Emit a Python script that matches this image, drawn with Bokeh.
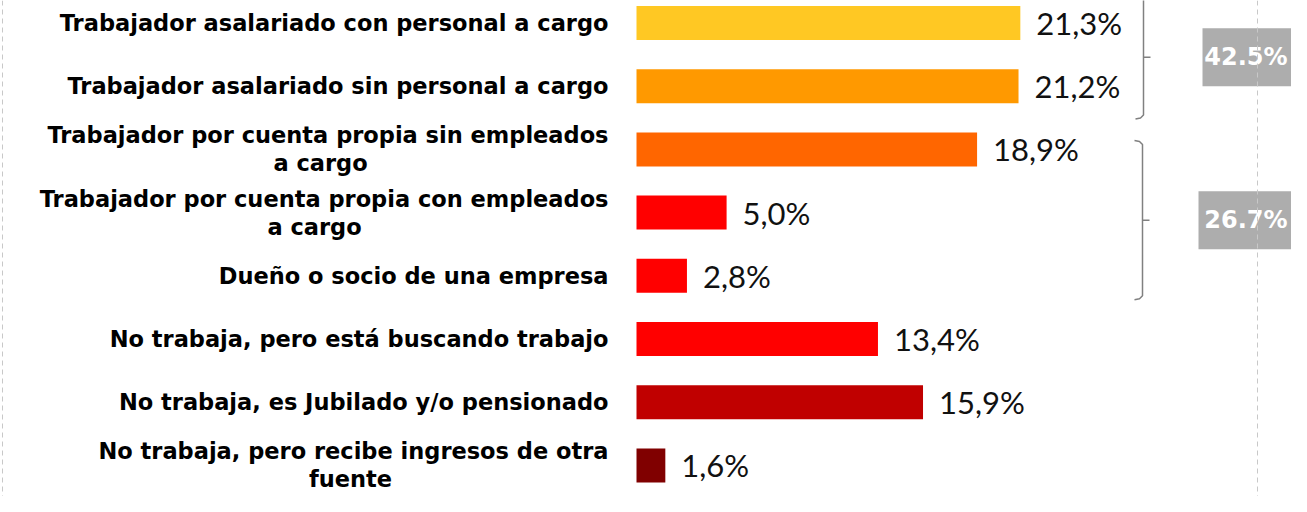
from bokeh.plotting import figure
from bokeh.models import Range1d, Span
from bokeh.core.properties import value
from bokeh.embed import file_html
from bokeh.resources import INLINE

# ---------------- data ----------------
categories = [
    "Trabajador asalariado con personal a cargo",
    "Trabajador asalariado sin personal a cargo",
    "Trabajador por cuenta propia sin empleados\na cargo",
    "Trabajador por cuenta propia con empleados\na cargo",
    "Dueño o socio de una empresa",
    "No trabaja, pero está buscando trabajo",
    "No trabaja, es Jubilado y/o pensionado",
    "No trabaja, pero recibe ingresos de otra\nfuente",
]
values = [21.3, 21.2, 18.9, 5.0, 2.8, 13.4, 15.9, 1.6]
bar_colors = ["#FFC823", "#FF9900", "#FF6600", "#FF0000", "#FF0000",
              "#FF0000", "#C00000", "#800000"]
group_rows = [[0, 1], [2, 3, 4]]

# ---------------- layout (pixels) ----------------
W, H = 1291, 496
PX = 18.02          # pixels per percentage point
ZERO = 636          # frame x of value 0
ROW = 63.2          # pixels per row
ROW0 = 22.5         # frame y of first row centre

def dx(px):
    return px / PX

def dy(px):
    return px / ROW

rows = list(range(len(values)))

p = figure(width=W, height=H, output_backend="svg", toolbar_location=None,
           x_range=Range1d(-ZERO / PX, (W - ZERO) / PX),
           y_range=Range1d((H - ROW0) / ROW, -ROW0 / ROW),
           min_border=0, outline_line_color=None)
p.axis.visible = False
p.grid.visible = False
p.background_fill_color = "white"
p.border_fill_color = "white"

# dashed verticals
p.add_layout(Span(location=dx(2 - ZERO), dimension="height", line_color="#C8C8C8",
                  line_dash="5 4", line_width=1))
p.add_layout(Span(location=dx(1257 - ZERO), dimension="height", line_color="#C8C8C8",
                  line_dash="5 4", line_width=1))

# bars
p.hbar(y=rows, left=0, right=values, height=dy(34), fill_color=bar_colors,
       line_color=None)

# value labels
val_text = [f"{v:.1f}".replace(".", ",") + "%" for v in values]
p.text(x=[v + dx(16) for v in values], y=rows, text=val_text,
       text_font=value("Lato"), text_font_size="31px", text_color="#111111",
       text_baseline="middle", text_align="left")

# category labels
LABEL_RIGHT = dx(608 - ZERO)
line2_center_px = {2: 320, 3: 314, 7: 350}
one_x, one_y, one_t = [], [], []
l1_x, l1_y, l1_t = [], [], []
l2_x, l2_y, l2_t = [], [], []
for i, c in enumerate(categories):
    parts = c.split("\n")
    if len(parts) == 1:
        one_x.append(LABEL_RIGHT); one_y.append(i); one_t.append(c)
    else:
        l1_x.append(LABEL_RIGHT); l1_y.append(i - dy(14)); l1_t.append(parts[0])
        l2_x.append(dx(line2_center_px[i] - ZERO)); l2_y.append(i + dy(14)); l2_t.append(parts[1])

lab_style = dict(text_font=value("DejaVu Sans"), text_font_style="bold",
                 text_font_size="22.5px", text_color="#000000", text_baseline="middle")
p.text(x=one_x, y=one_y, text=one_t, text_align="right", **lab_style)
p.text(x=l1_x, y=l1_y, text=l1_t, text_align="right", **lab_style)
p.text(x=l2_x, y=l2_y, text=l2_t, text_align="center", **lab_style)

# braces and group totals
BRACE_SPANS = [(-0.44, 1.52), (1.86, 4.38)]
BRACE_X = [1135, 1134]
BOX_LEFT = [1202, 1198]
xs, ys = [], []
for (top, bot), bx in zip(BRACE_SPANS, BRACE_X):
    mid = (top + bot) / 2
    x0 = dx(bx - ZERO)
    xv = dx(bx + 8 - ZERO)
    xs.append([x0, dx(bx + 5 - ZERO), xv, xv, dx(bx + 5 - ZERO), x0])
    ys.append([top, top + dy(1), top + dy(4), bot - dy(4), bot - dy(1), bot])
    xs.append([xv, dx(bx + 15 - ZERO)])
    ys.append([mid, mid])
p.multi_line(xs=xs, ys=ys, line_color="#808080", line_width=1.5)

totals = [sum(values[r] for r in g) for g in group_rows]
for (top, bot), bl, t in zip(BRACE_SPANS, BOX_LEFT, totals):
    mid = (top + bot) / 2
    p.quad(left=dx(bl - ZERO), right=dx(W + 20 - ZERO), top=mid - dy(29),
           bottom=mid + dy(29), fill_color="#ADADAD", line_color=None)
    p.text(x=[dx(W - 4 - ZERO)], y=[mid], text=[f"{t:.1f}%"],
           text_font=value("DejaVu Sans"), text_font_style="bold",
           text_font_size="24px", text_color="white",
           text_baseline="middle", text_align="right")

open("out.html", "w").write(file_html(p, INLINE))
